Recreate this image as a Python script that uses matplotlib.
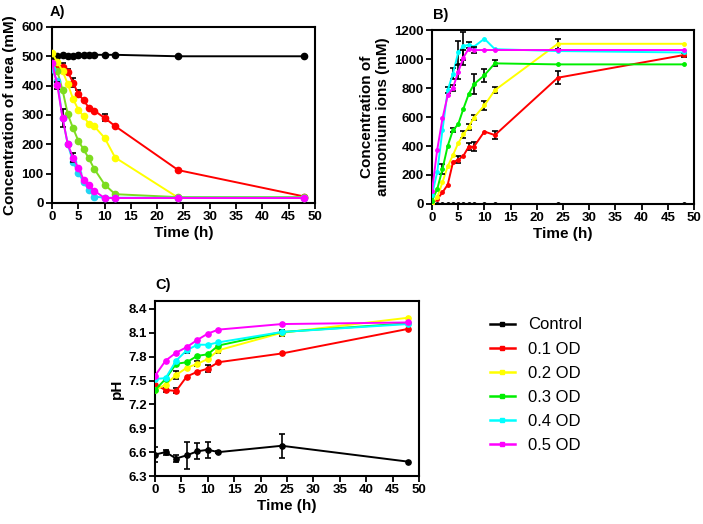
import matplotlib
matplotlib.use("Agg")
import matplotlib.pyplot as plt
import numpy as np

plt.rcParams['font.family'] = ['Liberation Sans', 'DejaVu Sans']

labels = ["Control", "0.1 OD", "0.2 OD", "0.3 OD", "0.4 OD", "0.5 OD"]
colors = ["black", "#ff0000", "#ffff00", "#00ee00", "#00ffff", "#ff00ff"]
colors_a = ["black", "#ff0000", "#ffff00", "#7ddc1f", "#22d4f4", "#ff00ff"]

# A) urea
time_a = [0, 1, 2, 3, 4, 5, 6, 7, 8, 10, 12, 24, 48]
urea = [
    [500, 500, 505, 500, 500, 505, 505, 505, 505, 505, 505, 500, 500],
    [470, 465, 462, 447, 410, 372, 350, 325, 315, 290, 262, 112, 22],
    [512, 480, 450, 405, 355, 318, 295, 270, 262, 222, 155, 18, 18],
    [475, 450, 385, 302, 255, 212, 183, 152, 117, 63, 30, 20, 20],
    [455, 415, 290, 200, 140, 103, 72, 45, 22, 18, 18, 18, 18],
    [478, 402, 290, 200, 155, 120, 80, 62, 42, 17, 17, 17, 17],
]
urea_err = [
    [10, 0, 0, 0, 0, 0, 0, 0, 0, 0, 0, 0, 0],
    [0, 0, 15, 8, 15, 12, 0, 0, 0, 12, 0, 0, 0],
    [0, 0, 0, 0, 0, 0, 0, 0, 0, 0, 0, 0, 0],
    [0, 0, 0, 0, 0, 0, 0, 0, 0, 0, 0, 0, 0],
    [0, 0, 0, 0, 0, 0, 0, 0, 0, 0, 0, 0, 0],
    [0, 12, 30, 0, 15, 0, 0, 0, 0, 0, 0, 0, 0],
]

# B) ammonium
time_b = [0, 1, 2, 3, 4, 5, 6, 7, 8, 10, 12, 24, 48]
ammonium = [
    [0, 0, 0, 0, 0, 0, 0, 0, 0, 0, 0, 0, 0],
    [7, 32, 80, 133, 287, 305, 333, 395, 395, 500, 475, 871, 1027],
    [5, 45, 150, 260, 337, 420, 480, 532, 596, 680, 785, 1105, 1105],
    [23, 103, 241, 401, 509, 550, 658, 757, 826, 888, 970, 963, 963],
    [62, 220, 511, 784, 900, 1045, 1090, 1098, 1085, 1140, 1068, 1055, 1045],
    [91, 375, 590, 750, 800, 910, 1010, 1072, 1062, 1062, 1062, 1062, 1062],
]
ammonium_err = [
    [0, 0, 0, 0, 0, 0, 0, 0, 0, 0, 0, 0, 0],
    [0, 0, 0, 0, 0, 25, 0, 25, 30, 0, 30, 45, 15],
    [0, 0, 0, 0, 0, 0, 25, 20, 15, 30, 20, 35, 0],
    [0, 0, 35, 0, 15, 0, 0, 0, 68, 45, 20, 0, 0],
    [0, 0, 0, 20, 40, 80, 95, 20, 0, 0, 0, 0, 0],
    [0, 0, 0, 0, 20, 50, 50, 0, 20, 0, 0, 0, 0],
]

# C) pH
time_c = [0, 2, 4, 6, 8, 10, 12, 24, 48]
ph = [
    [6.57, 6.60, 6.52, 6.56, 6.61, 6.63, 6.60, 6.68, 6.48],
    [7.45, 7.38, 7.37, 7.55, 7.61, 7.65, 7.73, 7.84, 8.15],
    [7.38, 7.45, 7.57, 7.66, 7.71, 7.77, 7.88, 8.10, 8.29],
    [7.38, 7.52, 7.71, 7.73, 7.81, 7.83, 7.94, 8.11, 8.22],
    [7.52, 7.53, 7.75, 7.88, 7.95, 7.95, 7.98, 8.11, 8.21],
    [7.56, 7.75, 7.85, 7.92, 8.01, 8.09, 8.14, 8.21, 8.23],
]
ph_err = [
    [0.10, 0.03, 0.05, 0.17, 0.10, 0.10, 0.01, 0.15, 0],
    [0.04, 0.03, 0.03, 0, 0, 0.04, 0, 0, 0],
    [0, 0, 0.05, 0, 0.03, 0, 0.03, 0.04, 0],
    [0, 0, 0, 0, 0, 0, 0, 0, 0],
    [0, 0, 0, 0.03, 0, 0, 0, 0, 0],
    [0, 0, 0, 0, 0, 0, 0, 0, 0],
]


def style_axes(ax, xlabel, ylabel):
    for s in ax.spines.values():
        s.set_linewidth(1.5)
    ax.tick_params(direction='out', length=4, width=1.3, labelsize=9.5, pad=2)
    for lab in ax.get_xticklabels() + ax.get_yticklabels():
        lab.set_fontweight('bold')
    ax.set_xlabel(xlabel, fontsize=11, fontweight='bold', labelpad=2)
    ax.set_ylabel(ylabel, fontsize=11, fontweight='bold', labelpad=3)
    ax.set_xlim(0, 50)
    ax.set_xticks(np.arange(0, 51, 5))


def draw_series(ax, t, data, err, cols, ms):
    for i in range(len(data)):
        e = np.array(err[i], dtype=float)
        ax.errorbar(t, data[i], yerr=np.where(e > 0, e, np.nan), fmt='none',
                    ecolor='black', elinewidth=1.2, capsize=2.5, capthick=1.2, zorder=2 + i)
        ax.plot(t, data[i], '-o', color=cols[i], lw=1.4, ms=ms,
                label=labels[i], zorder=3 + i)


fig = plt.figure(figsize=(7.03, 5.24), dpi=100)

ax_a = fig.add_axes([0.074, 0.6126, 0.374, 0.336])
draw_series(ax_a, time_a, urea, urea_err, colors_a, 4.5)
ax_a.set_ylim(0, 600)
ax_a.set_yticks(np.arange(0, 601, 100))
style_axes(ax_a, 'Time (h)', 'Concentration of urea (mM)')

ax_b = fig.add_axes([0.6145, 0.6107, 0.3727, 0.332])
draw_series(ax_b, time_b, ammonium, ammonium_err, colors, 2.5)
ax_b.set_ylim(0, 1200)
ax_b.set_yticks(np.arange(0, 1201, 200))
style_axes(ax_b, 'Time (h)', 'Concentration of\nammonium ions (mM)')

ax_c = fig.add_axes([0.2205, 0.0916, 0.3755, 0.334])
draw_series(ax_c, time_c, ph, ph_err, colors, 3.8)
ax_c.set_ylim(6.3, 8.5)
ax_c.set_yticks(np.arange(6.3, 8.41, 0.3))
ax_c.set_yticklabels([f"{v:.1f}" for v in np.arange(6.3, 8.41, 0.3)])
style_axes(ax_c, 'Time (h)', 'pH')

# legend with small square markers
leg_handles = [plt.Line2D([], [], color=c, lw=1.8, marker='s', ms=3) for c in colors]
fig.legend(leg_handles, labels, loc='upper left', bbox_to_anchor=(0.675, 0.423),
           frameon=False, fontsize=12, handlelength=1.5, handletextpad=0.8,
           labelspacing=0.55)

fig.text(50 / 703, 1 - 12 / 524, 'A)', fontsize=10.5, fontweight='bold', va='center')
fig.text(433 / 703, 1 - 15 / 524, 'B)', fontsize=10.5, fontweight='bold', va='center')
fig.text(155 / 703, 1 - 285 / 524, 'C)', fontsize=10.5, fontweight='bold', va='center')

fig.savefig('out.png', dpi=100)
